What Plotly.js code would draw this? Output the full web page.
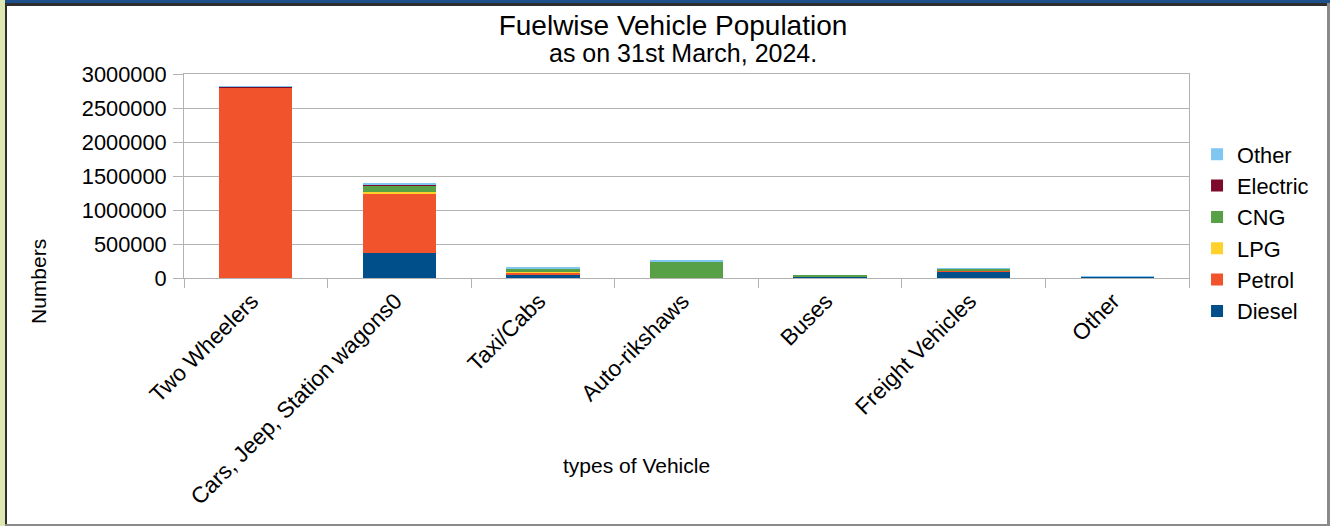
<!DOCTYPE html>
<html>
<head>
<meta charset="utf-8">
<script src="https://cdn.plot.ly/plotly-3.0.1.min.js"></script>
<style>
  html, body { margin: 0; padding: 0; background: #ffffff; }
  #wrap { position: relative; width: 1330px; height: 526px; overflow: hidden; background: #ffffff; }
  #chart { position: absolute; left: 0; top: 0; width: 1330px; height: 526px; }
  .frame { position: absolute; pointer-events: none; }
</style>
</head>
<body>
<div id="wrap">
  <div id="chart"></div>
  <div class="frame" style="left:0;top:0;width:1330px;height:3px;background:#1d4f8b;"></div>
  <div class="frame" style="left:0;top:0;width:5px;height:526px;background:#dce8b0;"></div>
  <div class="frame" style="left:5px;top:3px;width:1322px;height:3px;background:#2e2e2e;"></div>
  <div class="frame" style="left:5px;top:3px;width:2px;height:523px;background:#2e2e2e;"></div>
  <div class="frame" style="left:1327px;top:3px;width:3px;height:523px;background:#8a8a8a;"></div>
  <div class="frame" style="left:5px;top:524px;width:1325px;height:2px;background:#8a8a8a;"></div>
</div>
<script>
const categories = ["Two Wheelers", "Cars, Jeep, Station wagons0", "Taxi/Cabs", "Auto-rikshaws", "Buses", "Freight Vehicles", "Other"];
const diesel   = [1000, 372000, 42000, 2000, 22000, 100000, 18000];
const petrol   = [2795000, 873000, 38000, 3000, 1000, 15000, 1000];
const lpg      = [0, 20000, 2000, 0, 0, 2000, 0];
const cng      = [0, 98000, 55000, 232000, 19000, 25000, 1000];
const electric = [25000, 18000, 3000, 1000, 0, 0, 0];
const other    = [1000, 5000, 18000, 28000, 0, 2000, 4000];
const yTickVals = [0, 500000, 1000000, 1500000, 2000000, 2500000, 3000000];
const yTickText = ["0", "500000", "1000000", "1500000", "2000000", "2500000", "3000000"];

const seriesNames = ["Diesel", "Petrol", "LPG", "CNG", "Electric", "Other"];
const seriesValues = [diesel, petrol, lpg, cng, electric, other];
const seriesColors = ["#004f8b", "#f1532d", "#ffd12a", "#57a046", "#7d0a2a", "#7fc6f0"];

const FONT = "Liberation Sans, Arial, sans-serif";

const traces = seriesNames.map((n, i) => ({
  type: "bar",
  name: n,
  x: categories,
  y: seriesValues[i],
  legendgroup: n,
  legendrank: seriesNames.length - i,
  marker: { color: seriesColors[i], line: { width: 0 } },
  hoverinfo: "x+y+name"
}));

const layout = {
  width: 1330,
  height: 526,
  paper_bgcolor: "rgba(0,0,0,0)",
  plot_bgcolor: "#ffffff",
  barmode: "stack",
  bargap: 0.49,
  margin: { l: 184, r: 141, t: 74, b: 248, pad: 0 },
  font: { family: FONT, size: 21, color: "#000000" },
  title: {
    text: "Fuelwise Vehicle Population",
    font: { family: FONT, size: 28, color: "#000000" },
    xref: "container", x: 673 / 1330, xanchor: "center",
    yref: "container", y: 1 - 25 / 526, yanchor: "middle"
  },
  xaxis: {
    type: "category",
    tickangle: -45,
    tickson: "boundaries",
    ticks: "outside",
    ticklen: 9,
    tickcolor: "#b3b3b3",
    tickwidth: 1,
    ticklabelshift: -4,
    showgrid: false,
    showline: true,
    mirror: true,
    linecolor: "#b3b3b3",
    linewidth: 1,
    zeroline: false,
    automargin: false,
    tickfont: { family: FONT, size: 22.5, color: "#000000" }
  },
  yaxis: {
    range: [0, 3000000],
    tickvals: yTickVals,
    ticktext: yTickText,
    ticks: "outside",
    ticklen: 10,
    tickcolor: "#b3b3b3",
    tickwidth: 1,
    ticklabelstandoff: 2,
    showgrid: true,
    gridcolor: "#b3b3b3",
    gridwidth: 1,
    showline: true,
    mirror: true,
    linecolor: "#b3b3b3",
    linewidth: 1,
    zeroline: false,
    automargin: false,
    tickfont: { family: FONT, size: 21.8, color: "#000000" }
  },
  legend: {
    x: 1.008, xanchor: "left",
    y: 0.708, yanchor: "top",
    traceorder: "grouped",
    tracegroupgap: 0,
    font: { family: FONT, size: 21.8, color: "#000000" },
    bgcolor: "rgba(0,0,0,0)",
    borderwidth: 0
  },
  annotations: [
    {
      text: "as on 31st March, 2024.",
      xref: "paper", yref: "paper",
      x: (683 - 184) / 1005, y: (278 - 53) / 204,
      xanchor: "center", yanchor: "middle",
      showarrow: false,
      font: { family: FONT, size: 25, color: "#000000" }
    },
    {
      text: "Numbers",
      xref: "paper", yref: "paper",
      x: (38 - 184) / 1005, y: (278 - 282) / 204,
      xanchor: "center", yanchor: "middle",
      textangle: -90,
      showarrow: false,
      font: { family: FONT, size: 21, color: "#000000" }
    },
    {
      text: "types of Vehicle",
      xref: "paper", yref: "paper",
      x: (636 - 184) / 1005, y: (278 - 466) / 204,
      xanchor: "center", yanchor: "middle",
      showarrow: false,
      font: { family: FONT, size: 21, color: "#000000" }
    }
  ]
};

Plotly.newPlot("chart", traces, layout, { displayModeBar: false, staticPlot: false });
</script>
</body>
</html>
